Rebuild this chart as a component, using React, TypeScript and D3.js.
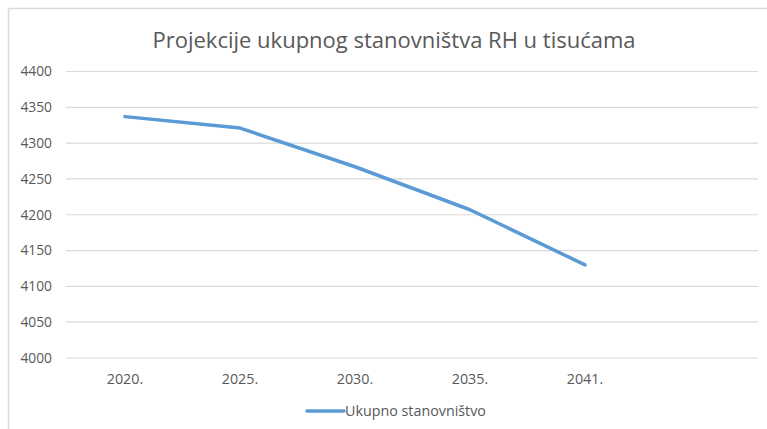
import React from "react";
import * as d3 from "d3";

const categories = ["2020.", "2025.", "2030.", "2035.", "2041.", ""];
const values = [4337, 4321, 4267, 4207, 4130];
const yTicks = [4000, 4050, 4100, 4150, 4200, 4250, 4300, 4350, 4400];
const seriesName = "Ukupno stanovništvo";
const title = "Projekcije ukupnog stanovništva RH u tisućama";

const W = 767;
const H = 429;
const FONT = "'Open Sans', 'Noto Sans', sans-serif";
const GREY = "#595959";
const LINE = "#5B9BD5";

export default function App() {
  const x = d3.scaleBand<string>().domain(categories.map((c, i) => String(i))).range([67.5, 757.5]);
  const y = d3.scaleLinear().domain([4000, 4400]).range([358, 71.5]);
  const cx = (i: number) => (x(String(i)) as number) + x.bandwidth() / 2;
  const line = d3
    .line<number>()
    .x((_, i) => cx(i))
    .y((d) => y(d));

  return (
    <svg
      width={W}
      height={H}
      style={{ position: "absolute", left: 0, top: 0, background: "#fff" }}
    >
      <rect x={0} y={0} width={W} height={H} fill="#fff" />
      <line x1={8.5} x2={W} y1={8.5} y2={8.5} stroke="#d9d9d9" strokeWidth={1.5} />
      <line x1={8.5} x2={8.5} y1={8.5} y2={H} stroke="#d9d9d9" strokeWidth={1.5} />
      <text
        x={394}
        y={47.5}
        textAnchor="middle"
        fontFamily={FONT}
        fontSize={22}
        fill={GREY}
      >
        {title}
      </text>
      {yTicks.map((t) => (
        <g key={t}>
          <line x1={66} x2={758} y1={y(t)} y2={y(t)} stroke="#d9d9d9" strokeWidth={1.2} />
          <text
            x={52}
            y={y(t) + 4.8}
            textAnchor="end"
            fontFamily={FONT}
            fontSize={13.8}
            fill={GREY}
          >
            {t}
          </text>
        </g>
      ))}
      {categories.map((c, i) => (
        <text
          key={i}
          x={cx(i)}
          y={383.5}
          textAnchor="middle"
          fontFamily={FONT}
          fontSize={14.3}
          fill={GREY}
        >
          {c}
        </text>
      ))}
      <path
        d={line(values) || ""}
        fill="none"
        stroke={LINE}
        strokeWidth={3.5}
        strokeLinejoin="round"
        strokeLinecap="round"
      />
      <line x1={307} x2={344} y1={411} y2={411} stroke={LINE} strokeWidth={3.5} strokeLinecap="round" />
      <text x={345} y={416} fontFamily={FONT} fontSize={14.3} fill={GREY}>
        {seriesName}
      </text>
    </svg>
  );
}
